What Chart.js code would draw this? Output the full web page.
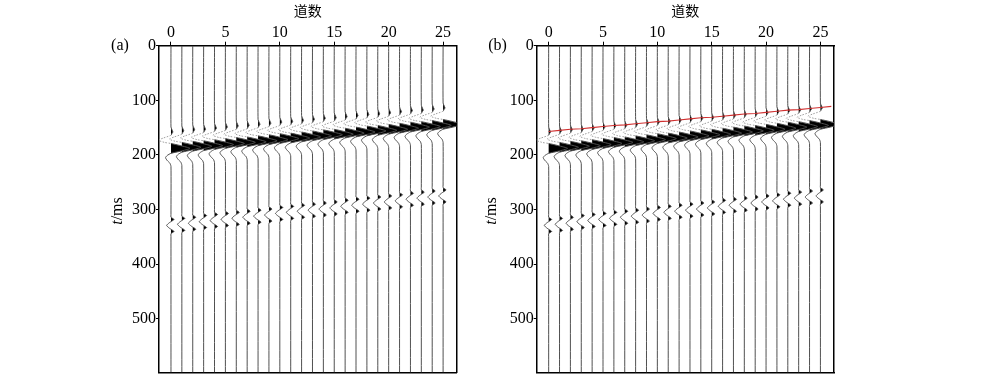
<!DOCTYPE html>
<html><head><meta charset="utf-8">
<script src="https://cdn.jsdelivr.net/npm/chart.js@4.4.1/dist/chart.umd.min.js"></script>
<style>
html,body{margin:0;padding:0;background:#fff;width:1000px;height:382px;overflow:hidden;}
canvas{position:absolute;top:0;}
</style></head><body>
<canvas id="ca" width="470" height="382" style="left:0px"></canvas>
<canvas id="cb" width="530" height="382" style="left:470px"></canvas>
<script>
// ---- data ----
const TRACES = [0,1,2,3,4,5,6,7,8,9,10,11,12,13,14,15,16,17,18,19,20,21,22,23,24,25];
// first-arrival (onset) time of the direct event on each trace, ms
const PICK_MS = [157,155,153,152,150,148,146,145,143,141,139,138,136,134,132,131,129,127,125,124,122,120,118,117,115,113];
// centre time of the second (weaker) event on each trace, ms
const REFL_MS = [329,327,325,322,320,318,316,314,312,310,307,305,303,301,299,297,294,292,290,288,286,284,281,279,277,275];
// red pick line of panel (b)
const RED_X  = [0,1,2,3,4,5,6,7,8,9,10,11,12,13,14,15,16,17,18,19,20,21,22,23,24,25,26];
const RED_MS = [157,155,153,152,150,148,146,145,143,141,139,138,136,134,132,131,129,127,125,124,122,120,118,117,115,113,111];
// wavelet of event 1 (time after onset, ms / amplitude in trace spacings)
const W1_T = [-8, -2, 1, 4, 7, 12, 16, 20, 22, 26, 31, 36, 40, 44, 48, 53, 58, 64];
const W1_A = [0, 0.12, 0.18, 0.08, 0, -0.7, -1.15, -0.6, 0, 0.9, 1.75, 0.9, 0, -0.35, -0.5, -0.35, -0.1, 0];
// wavelet of event 2 (time about centre, ms / amplitude)
const W2_T = [-20, -15, -11, -7, -5, 0, 5, 7, 11, 15, 20];
const W2_A = [0, 0, 0.28, 0, -0.15, -0.4, -0.15, 0, 0.28, 0, 0];
const X_TICKS = [0,5,10,15,20,25];
const Y_TICKS = [0,100,200,300,400,500];
const T_MAX = 598;
const X_LABEL = '道数';
const Y_LABEL_VAR = 't';
const Y_LABEL_UNIT = '/ms';
const PANEL_LABELS = ['(a)', '(b)'];

const SERIF = '"Liberation Serif", "Times New Roman", serif';
Chart.defaults.font.family = SERIF;

function tracePoints(i) {
  const pts = [{x: i, y: 0}];
  W1_T.forEach((t, k) => pts.push({x: i + W1_A[k], y: PICK_MS[i] + t}));
  W2_T.forEach((t, k) => pts.push({x: i + W2_A[k], y: REFL_MS[i] + t}));
  pts.push({x: i, y: T_MAX});
  return pts;
}
function positiveLobes(i, t0, T, A) {
  const out = []; let cur = null;
  for (let k = 0; k < T.length; k++) {
    if (A[k] > 0) {
      if (!cur) cur = [{x: i, y: t0 + T[k - 1]}];
      cur.push({x: i + A[k], y: t0 + T[k]});
    } else if (cur) {
      cur.push({x: i, y: t0 + T[k]});
      out.push(cur); cur = null;
    }
  }
  return out;
}

function buildDatasets(withRed) {
  const ds = [];
  if (withRed) {
    ds.push({data: RED_X.map((x, k) => ({x, y: RED_MS[k]})), showLine: true,
      borderColor: '#d03030', borderWidth: 1.1, pointRadius: 0, tension: 0, order: 0});
  }
  TRACES.forEach(i => {
    const lobes = positiveLobes(i, PICK_MS[i], W1_T, W1_A)
      .concat(positiveLobes(i, REFL_MS[i], W2_T, W2_A));
    lobes.forEach(l => ds.push({data: l, showLine: true, borderWidth: 0, borderColor: 'rgba(0,0,0,0)',
      backgroundColor: '#000', fill: 'shape', pointRadius: 0, tension: 0.2, order: 2}));
    const far = c => Math.min(c.p0.parsed.x, c.p1.parsed.x) < i - 0.5;
    ds.push({data: tracePoints(i), showLine: true, borderColor: '#505050', borderWidth: 1,
      pointRadius: 0, tension: 0.2, fill: false, order: 1,
      segment: {borderColor: c => far(c) ? '#a0a0a0' : undefined,
                borderDash: c => far(c) ? [1.5, 1.5] : undefined}});
  });
  return ds;
}

const textPlugin = {
  id: 'panelText',
  afterDraw(chart, args, o) {
    const {ctx, chartArea} = chart;
    ctx.save();
    ctx.fillStyle = '#000';
    ctx.textAlign = 'center'; ctx.textBaseline = 'middle';
    ctx.font = '16px ' + SERIF;
    ctx.fillText(o.panel, o.panelX, 46);
    ctx.font = '14px "Noto Sans CJK SC"';
    ctx.fillText(X_LABEL, (chartArea.left + chartArea.right) / 2, 11);
    ctx.translate(o.yTitleX, 211);
    ctx.rotate(-Math.PI / 2);
    ctx.font = 'italic 16px ' + SERIF; const w1 = ctx.measureText(Y_LABEL_VAR).width;
    ctx.font = '16px ' + SERIF; const w2 = ctx.measureText(Y_LABEL_UNIT).width;
    const s = -(w1 + w2) / 2;
    ctx.textAlign = 'left';
    ctx.font = 'italic 16px ' + SERIF; ctx.fillText(Y_LABEL_VAR, s, 0);
    ctx.font = '16px ' + SERIF; ctx.fillText(Y_LABEL_UNIT, s + w1, 0);
    ctx.restore();
  }
};

function makePanel(id, withRed, yAxisWidth, padRight, label, labelX, yTitleX) {
  const tickFont = {family: SERIF, size: 16};
  const border = {display: true, color: '#000', width: 1.5};
  new Chart(document.getElementById(id), {
    type: 'scatter',
    data: {datasets: buildDatasets(withRed)},
    plugins: [textPlugin],
    options: {
      responsive: false, animation: false, devicePixelRatio: 1,
      layout: {padding: {left: 0, top: 0, right: padRight, bottom: 9}},
      plugins: {legend: {display: false}, tooltip: {enabled: false},
        panelText: {panel: label, panelX: labelX, yTitleX: yTitleX}},
      scales: {
        x: {type: 'linear', position: 'top', min: -1.1, max: 26.25,
          afterBuildTicks: s => { s.ticks = X_TICKS.map(v => ({value: v})); },
          ticks: {font: tickFont, color: '#000', padding: -1, maxRotation: 0, autoSkip: false},
          grid: {display: true, drawOnChartArea: false, drawTicks: true, tickLength: 4, tickColor: '#000', tickWidth: 1},
          border, afterFit: s => { s.height = 45.7; }},
        y: {type: 'linear', position: 'left', reverse: true, min: 0, max: T_MAX,
          afterBuildTicks: s => { s.ticks = Y_TICKS.map(v => ({value: v})); },
          ticks: {font: tickFont, color: '#000', padding: 0, autoSkip: false},
          grid: {display: true, drawOnChartArea: false, drawTicks: true, tickLength: 3, tickColor: '#000', tickWidth: 1},
          border, afterFit: s => { s.width = yAxisWidth; }},
        xb: {type: 'linear', position: 'bottom', min: -1.1, max: 26.25,
          ticks: {display: false}, grid: {display: false}, border, afterFit: s => { s.height = 0; }},
        yr: {type: 'linear', position: 'right', min: 0, max: T_MAX,
          ticks: {display: false}, grid: {display: false}, border, afterFit: s => { s.width = 0; }}
      }
    }
  });
}

makePanel('ca', false, 159, 13.3, PANEL_LABELS[0], 120, 117.5);
makePanel('cb', true, 66.7, 166, PANEL_LABELS[1], 27.5, 22);
</script>
</body></html>
